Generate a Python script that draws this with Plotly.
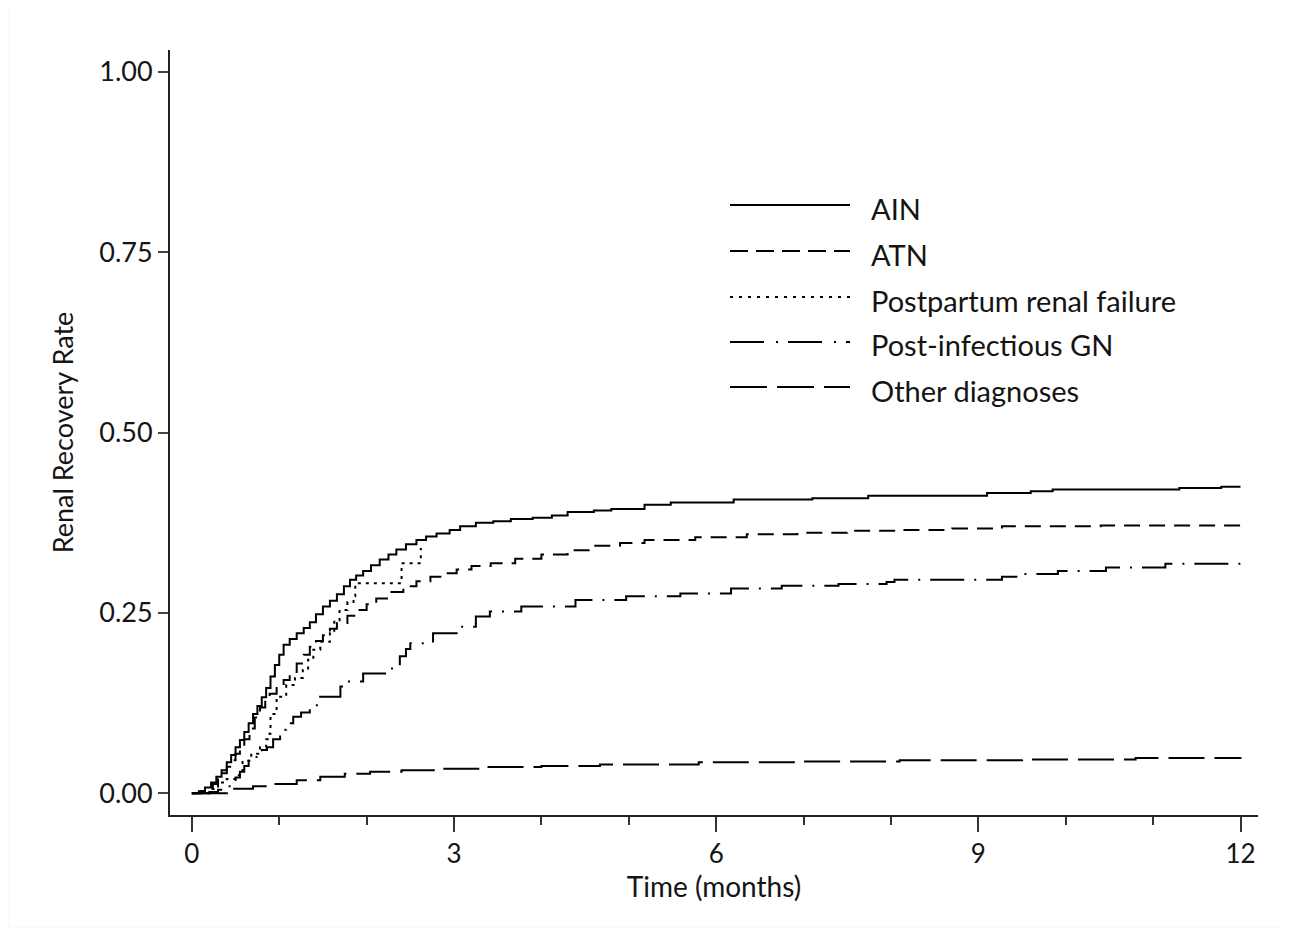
import plotly.graph_objects as go

# ---------------- data ----------------
ain_t = [0, 0.08, 0.15, 0.22, 0.28, 0.34, 0.40, 0.45, 0.50, 0.55, 0.60, 0.65, 0.70, 0.75, 0.80,
         0.85, 0.90, 0.95, 1.00, 1.05, 1.12, 1.20, 1.28, 1.35, 1.42, 1.50, 1.58, 1.66, 1.74, 1.81,
         1.88, 1.96, 2.05, 2.15, 2.25, 2.34, 2.45, 2.57, 2.68, 2.80, 2.95, 3.07, 3.25, 3.45, 3.65,
         3.90, 4.12, 4.30, 4.60, 4.80, 5.18, 5.48, 6.20, 7.10, 7.74, 9.10, 9.60, 9.85, 11.30, 11.78, 12.0]
ain_v = [0, 0.003, 0.008, 0.015, 0.023, 0.032, 0.043, 0.053, 0.064, 0.074, 0.085, 0.097, 0.110, 0.121, 0.133,
         0.146, 0.162, 0.178, 0.192, 0.206, 0.214, 0.222, 0.229, 0.237, 0.248, 0.259, 0.267, 0.276, 0.287, 0.296,
         0.302, 0.308, 0.316, 0.324, 0.331, 0.338, 0.345, 0.351, 0.356, 0.360, 0.365, 0.370, 0.375, 0.377, 0.380,
         0.382, 0.385, 0.390, 0.392, 0.394, 0.400, 0.403, 0.407, 0.409, 0.4125, 0.416, 0.4185, 0.421, 0.423, 0.425, 0.425]

atn_t = [0, 0.10, 0.18, 0.24, 0.30, 0.35, 0.40, 0.45, 0.50, 0.55, 0.60, 0.66, 0.72, 0.78, 0.84, 0.89,
         0.97, 1.05, 1.12, 1.20, 1.28, 1.35, 1.42, 1.50, 1.58, 1.66, 1.78, 1.89, 2.00, 2.11, 2.25, 2.42,
         2.57, 2.73, 2.88, 3.03, 3.20, 3.42, 3.70, 4.00, 4.30, 4.60, 4.90, 5.18, 5.76, 6.35, 6.93, 7.50,
         8.10, 8.70, 9.27, 10.40, 12.0]
atn_v = [0, 0.003, 0.007, 0.013, 0.020, 0.028, 0.037, 0.046, 0.055, 0.064, 0.075, 0.090, 0.105, 0.119, 0.130, 0.138,
         0.148, 0.157, 0.168, 0.180, 0.192, 0.203, 0.211, 0.219, 0.228, 0.236, 0.246, 0.254, 0.262, 0.270, 0.279, 0.287,
         0.294, 0.300, 0.305, 0.310, 0.315, 0.319, 0.325, 0.331, 0.337, 0.343, 0.347, 0.351, 0.355, 0.359, 0.361, 0.364,
         0.365, 0.367, 0.370, 0.371, 0.372]

ppr_t = [0, 0.20, 0.30, 0.40, 0.50, 0.58, 0.68, 0.78, 0.85, 0.89, 0.90, 0.97, 1.08, 1.18, 1.27, 1.33,
         1.39, 1.47, 1.58, 1.63, 1.69, 1.78, 1.85, 1.87, 2.40, 2.62]
ppr_v = [0, 0.006, 0.015, 0.020, 0.025, 0.045, 0.055, 0.064, 0.075, 0.083, 0.110, 0.134, 0.150, 0.160, 0.171, 0.185,
         0.199, 0.210, 0.222, 0.240, 0.254, 0.265, 0.273, 0.291, 0.319, 0.340]

pign_t = [0, 0.20, 0.30, 0.40, 0.45, 0.50, 0.55, 0.60, 0.65, 0.74, 0.80, 0.86, 0.93, 1.01, 1.08, 1.16,
          1.25, 1.35, 1.43, 1.70, 1.77, 1.96, 2.23, 2.38, 2.45, 2.50, 2.76, 3.07, 3.25, 3.41, 3.77, 4.39,
          4.97, 5.59, 6.17, 6.75, 7.40, 7.95, 8.04, 9.27, 9.50, 9.91, 10.46, 11.14, 12.0]
pign_v = [0, 0.002, 0.005, 0.010, 0.015, 0.022, 0.030, 0.038, 0.045, 0.055, 0.060, 0.064, 0.075, 0.088, 0.097, 0.106,
          0.112, 0.120, 0.134, 0.148, 0.155, 0.166, 0.173, 0.190, 0.200, 0.208, 0.222, 0.231, 0.245, 0.252, 0.259, 0.268,
          0.273, 0.277, 0.284, 0.2875, 0.290, 0.293, 0.296, 0.300, 0.304, 0.308, 0.313, 0.318, 0.318]

oth_t = [0, 0.43, 0.47, 0.70, 0.89, 1.20, 1.47, 1.75, 2.04, 2.40, 2.80, 3.34, 4.00, 4.67, 5.80, 7.00,
         8.10, 9.50, 10.80, 12.0]
oth_v = [0, 0.0, 0.0065, 0.010, 0.013, 0.018, 0.023, 0.027, 0.030, 0.032, 0.034, 0.0365, 0.038, 0.040, 0.043, 0.044,
         0.046, 0.047, 0.049, 0.050]

series_names = ["AIN", "ATN", "Postpartum renal failure", "Post-infectious GN", "Other diagnoses"]
x_ticks = [0, 3, 6, 9, 12]
y_ticks = [0, 0.25, 0.5, 0.75, 1.0]
y_tick_labels = ["0.00", "0.25", "0.50", "0.75", "1.00"]

# ---------------- styles ----------------
dashes = ["solid", "16px,9px", "3px,5px", "34px,10px,2px,10px", "36px,10px"]
legend_dashes = ["solid", "18px,8px", "3px,6px", "34px,12px,2px,10px", "37px,10px"]
FONT = "Lato, 'Open Sans', sans-serif"
TXT = "#141414"

fig = go.Figure()
data = [(ain_t, ain_v), (atn_t, atn_v), (ppr_t, ppr_v), (pign_t, pign_v), (oth_t, oth_v)]
for (t, v), name, d in zip(data, series_names, dashes):
    fig.add_trace(go.Scatter(x=t, y=v, mode="lines", name=name, line_shape="hv",
                             line=dict(color="black", width=2, dash=d), showlegend=False))

# ---------------- layout ----------------
OFF = 8  # page body margin
W, H = 1273, 920
L, T = 170 - OFF, 50 - OFF
pw, ph = 1088, 765
R = W - L - pw
B = H - T - ph

fig.update_layout(
    width=W, height=H,
    margin=dict(l=L, r=R, t=T, b=B),
    paper_bgcolor="white", plot_bgcolor="white",
    font=dict(family=FONT, color=TXT),
)
fig.update_xaxes(
    range=[-0.25, 12.2], tickvals=x_ticks, ticktext=[str(v) for v in x_ticks],
    showgrid=False, zeroline=False, showline=True, linecolor="#222", linewidth=2,
    ticks="outside", ticklen=15, tickwidth=1.5, tickcolor="#333",
    tickfont=dict(size=26, family=FONT, color=TXT),
    minor=dict(dtick=1, tick0=0, ticks="outside", ticklen=8, tickwidth=1.5, tickcolor="#333", showgrid=False),
    title=dict(text="Time (months)", font=dict(size=28, family=FONT, color=TXT), standoff=0),
)
fig.update_yaxes(
    range=[-0.03, 1.03], tickvals=y_ticks, ticktext=y_tick_labels,
    showgrid=False, zeroline=False, showline=True, linecolor="#222", linewidth=2,
    ticks="outside", ticklen=10, tickwidth=1.5, tickcolor="#444",
    tickfont=dict(size=27, family=FONT, color=TXT),
    title=dict(text="Renal Recovery Rate", font=dict(size=27, family=FONT, color=TXT), standoff=18),
)

# ---------------- manual legend (long sample lines) ----------------
def px2paper_x(px):
    return (px - OFF - L) / pw

def px2paper_y(py):
    return (T + ph - (py - OFF)) / ph

row_y = [205, 251, 297, 342, 387]
for name, d, ry in zip(series_names, legend_dashes, row_y):
    fig.add_shape(type="line", xref="paper", yref="paper",
                  x0=px2paper_x(730), x1=px2paper_x(850), y0=px2paper_y(ry), y1=px2paper_y(ry),
                  line=dict(color="black", width=2, dash=d))
    fig.add_annotation(xref="paper", yref="paper", x=px2paper_x(869), y=px2paper_y(ry + 3),
                       text=name, showarrow=False, xanchor="left", yanchor="middle",
                       font=dict(size=29, family=FONT, color=TXT))

# faint image border
fig.add_shape(type="rect", xref="paper", yref="paper",
              x0=px2paper_x(8), x1=px2paper_x(1284), y0=px2paper_y(928), y1=px2paper_y(5),
              line=dict(color="#f2f2f2", width=1), layer="below")

fig.write_html("out.html")
